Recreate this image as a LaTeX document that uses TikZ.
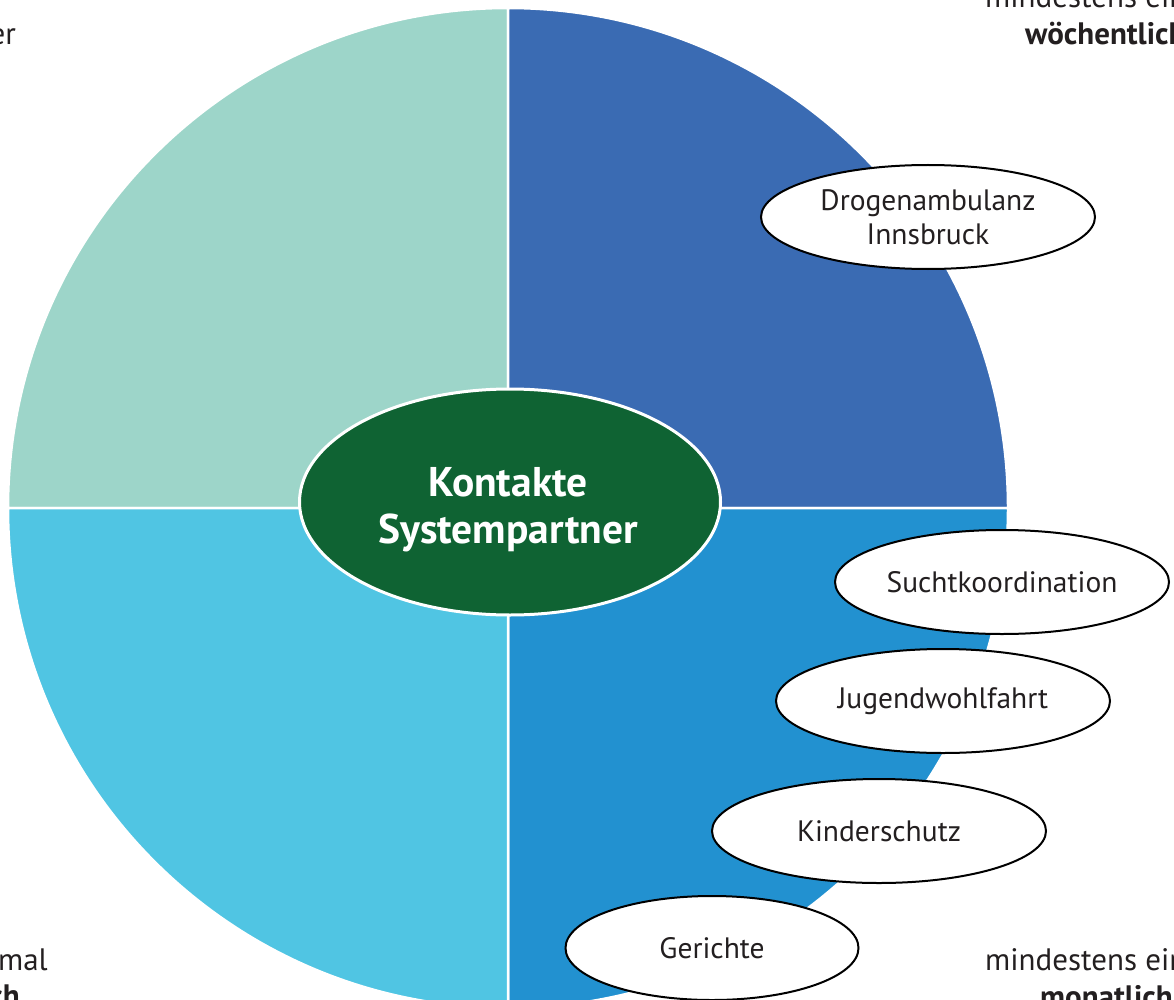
\documentclass[tikz,border=0pt]{standalone}
\usepackage{fontspec}
\setmainfont{PT Sans}
\usetikzlibrary{shapes.geometric}
\definecolor{qtl}{HTML}{9DD5C9}
\definecolor{qtr}{HTML}{3A6BB3}
\definecolor{qbr}{HTML}{2291D0}
\definecolor{qbl}{HTML}{50C5E3}
\definecolor{cgreen}{HTML}{0F6333}
\definecolor{txt}{HTML}{231F20}
\begin{document}
\begin{tikzpicture}[x=1pt,y=-1pt,
  sector/.style={draw=white, line width=2.5pt},
  partner/.style={ellipse, draw=black, line width=2pt, fill=white, minimum width=334pt, minimum height=104pt, inner sep=0pt, align=center, text=txt, font=\fontsize{29.5}{34}\selectfont},
  freq/.style={inner sep=0pt, text=txt, font=\fontsize{31}{36}\selectfont},
  freqb/.style={inner sep=0pt, text=txt, font=\fontsize{31}{36}\selectfont\bfseries}]
\useasboundingbox (0,0) rectangle (1174,1000);
\clip (0,0) rectangle (1174,1000);
\fill[white] (0,0) rectangle (1174,1000);
\coordinate (c) at (508,508);
\filldraw[sector, fill=qtl] (c) -- (8,508) arc[start angle=180, end angle=270, radius=500] -- cycle;
\filldraw[sector, fill=qtr] (c) -- (508,8) arc[start angle=270, end angle=360, radius=500] -- cycle;
\filldraw[sector, fill=qbr] (c) -- (1008,508) arc[start angle=0, end angle=90, radius=500] -- cycle;
\filldraw[sector, fill=qbl] (c) -- (508,1008) arc[start angle=90, end angle=180, radius=500] -- cycle;
\node[ellipse, fill=cgreen, draw=white, line width=3pt, minimum width=421pt, minimum height=226pt, inner sep=0pt] (center) at (510,502) {};
\node[inner sep=0pt, align=center, text=white, font=\fontsize{41.5}{47}\selectfont\bfseries] (centertext) at (508,510) {Kontakte\\Systempartner};
\node[partner] (drogen) at (928,217) {Drogenambulanz\\Innsbruck};
\node[partner] (sucht) at (1002,582) {Suchtkoordination};
\node[partner] (jugend) at (943,701) {Jugendwohlfahrt};
\node[partner] (kinder) at (879,831) {Kinderschutz};
\node[partner, minimum width=293pt] (gericht) at (712,948) {Gerichte};
\node[freq, anchor=base east] (tl) at (16,45) {seltener};
\node[freq, anchor=base west] (tr1) at (985,8) {mindestens einmal};
\node[freqb, anchor=base west] (tr2) at (1025,45) {wöchentlich};
\node[freq, anchor=base east] (bl1) at (48,970) {mindestens einmal};
\node[freqb, anchor=base east] (bl2) at (20,1006) {jährlich};
\node[freq, anchor=base west] (br1) at (985,970) {mindestens einmal};
\node[freqb, anchor=base west] (br2) at (1040,1007) {monatlich};
\end{tikzpicture}
\end{document}
